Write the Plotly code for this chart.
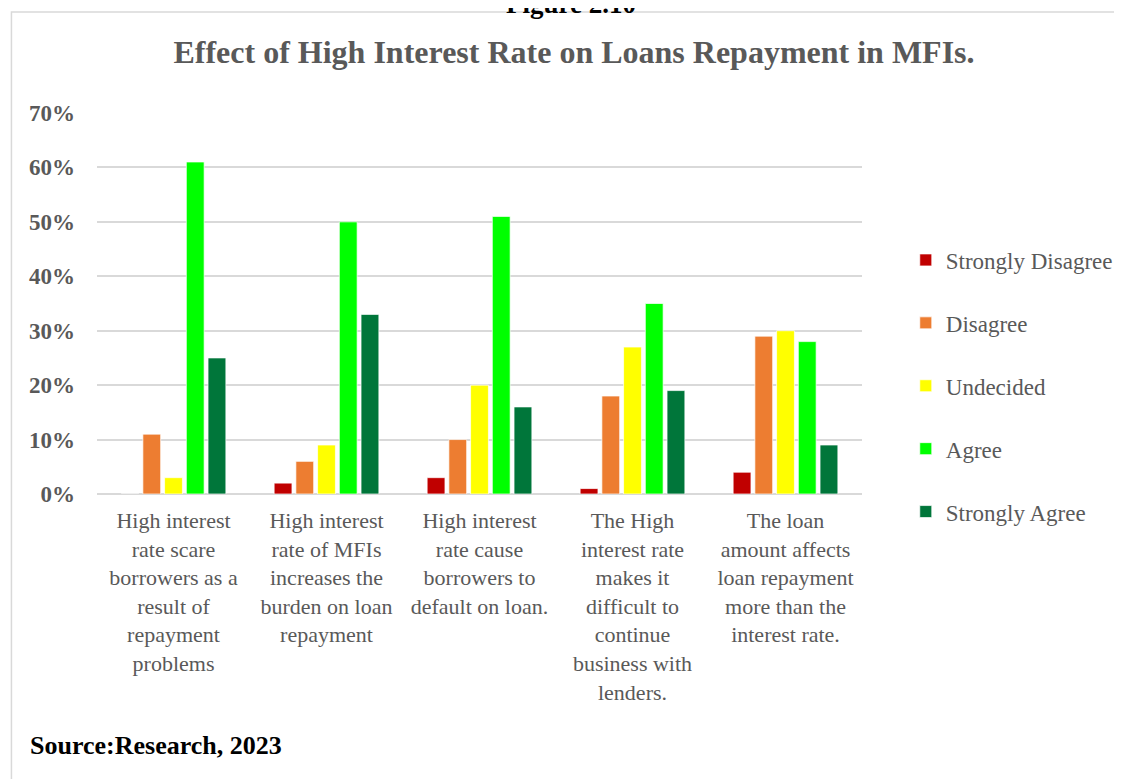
import plotly.graph_objects as go

categories = [
    "High interest<br>rate scare<br>borrowers as a<br>result of<br>repayment<br>problems",
    "High interest<br>rate of MFIs<br>increases the<br>burden on loan<br>repayment",
    "High interest<br>rate cause<br>borrowers to<br>default on loan.",
    "The High<br>interest rate<br>makes it<br>difficult to<br>continue<br>business with<br>lenders.",
    "The loan<br>amount affects<br>loan repayment<br>more than the<br>interest rate.",
]
series_names = ["Strongly Disagree", "Disagree", "Undecided", "Agree", "Strongly Agree"]
strongly_disagree = [0.00, 0.02, 0.03, 0.01, 0.04]
disagree = [0.11, 0.06, 0.10, 0.18, 0.29]
undecided = [0.03, 0.09, 0.20, 0.27, 0.30]
agree = [0.61, 0.50, 0.51, 0.35, 0.28]
strongly_agree = [0.25, 0.33, 0.16, 0.19, 0.09]
series_values = [strongly_disagree, disagree, undecided, agree, strongly_agree]
colors = ["#C00000", "#ED7D31", "#FFFF00", "#00FF00", "#00763A"]
tick_vals = [0, 0.1, 0.2, 0.3, 0.4, 0.5, 0.6, 0.7]
tick_text = ["0%", "10%", "20%", "30%", "40%", "50%", "60%", "70%"]

FONT = "Liberation Serif, Times New Roman, serif"
GRAY = "#595959"

OFF = 8  # page offset of the figure div
W, H = 1122, 779
# target screen positions of the plot area
SX0, SX1, SY0, SY1 = 97, 866, 113, 494
L = SX0 - OFF
T = SY0 - OFF
pw = SX1 - SX0
ph = SY1 - SY0
R = W - L - pw
B = H - T - ph

def px_x(p):
    return (p - SX0) / pw

def px_y(p):
    return (SY1 - p) / ph

fig = go.Figure()
for name, vals, col in zip(series_names, series_values, colors):
    fig.add_trace(go.Bar(
        x=categories, y=vals, name=name, legendgroup=name,
        marker=dict(color=col, line=dict(color="rgba(255,255,255,0.7)", width=1)),
    ))

fig.update_layout(
    width=W, height=H,
    margin=dict(l=L, r=R, t=T, b=B),
    paper_bgcolor="white", plot_bgcolor="white",
    barmode="group", bargap=0.29, bargroupgap=0.18,
    font=dict(family=FONT, color=GRAY, size=22),
    title=dict(text="<b>Effect of High Interest Rate on Loans Repayment in MFIs.</b>",
               x=(574 - OFF) / W, xanchor="center", y=1 - (52 - OFF) / H, yanchor="middle",
               xref="container", yref="container",
               font=dict(family=FONT, size=32, color=GRAY)),
    legend=dict(x=px_x(910), xanchor="left", y=px_y(386), yanchor="middle",
                font=dict(family=FONT, size=23, color=GRAY),
                tracegroupgap=30, bgcolor="rgba(0,0,0,0)"),
    hovermode=False,
    showlegend=True,
)
fig.update_yaxes(range=[0, 0.7], tickvals=tick_vals, ticktext=tick_text,
                 showgrid=True, gridcolor="#D9D9D9", gridwidth=1.5,
                 zeroline=True, zerolinecolor="#D9D9D9", zerolinewidth=1.5,
                 showline=False, ticklabelstandoff=21,
                 tickfont=dict(family=FONT, size=23, color=GRAY, weight="bold"))
fig.update_xaxes(showline=False, tickfont=dict(family=FONT, size=22, color=GRAY),
                 ticklabelstandoff=11)

# chart border
fig.add_shape(type="rect", xref="paper", yref="paper",
              x0=px_x(11), y0=px_y(12), x1=px_x(1140), y1=px_y(800),
              line=dict(color="#D9D9D9", width=1.5), fillcolor="rgba(0,0,0,0)", layer="below")

fig.add_annotation(text="<b>Figure 2.10</b>", xref="paper", yref="paper",
                   x=px_x(573), y=px_y(21), xanchor="center", yanchor="bottom",
                   showarrow=False, font=dict(family=FONT, size=27, color="black"))
fig.add_annotation(text="<b>Source:Research, 2023</b>", xref="paper", yref="paper",
                   x=px_x(28), y=px_y(745), xanchor="left", yanchor="middle",
                   showarrow=False, font=dict(family=FONT, size=26, color="black"))

fig.write_html("out.html", config={"displayModeBar": False})
